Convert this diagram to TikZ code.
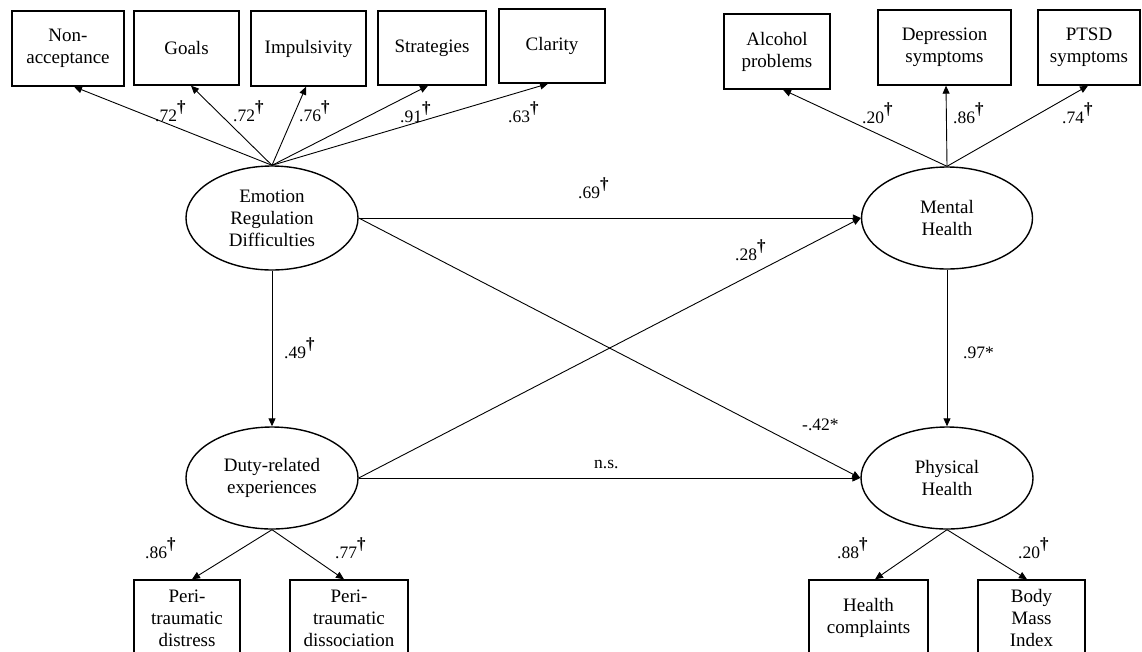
\documentclass[tikz,border=0pt]{standalone}
\usepackage{fontspec}
\setmainfont{Liberation Serif}
\usetikzlibrary{arrows.meta,shapes.geometric}
\newcommand{\dg}{\raisebox{8.5pt}{\fontsize{17}{17}\selectfont\bfseries †}}
\begin{document}
\begin{tikzpicture}[x=1pt,y=-1pt,
  box/.style={draw,line width=1.4pt,rectangle,inner sep=0pt,align=center,font=\fontsize{19}{22}\selectfont},
  latent/.style={draw,line width=1.4pt,ellipse,inner sep=0pt,align=center,font=\fontsize{19}{22}\selectfont},
  arr/.style={line width=0.9pt,-{Triangle[length=8pt,width=7pt]}},
  lab/.style={anchor=base west,inner sep=0pt,font=\fontsize{17.5}{17.5}\selectfont}]
\useasboundingbox[fill=white] (0,0) rectangle (1142,651);

% indicator boxes (top)
\node[box,minimum width=112pt,minimum height=75pt] (nonacc) at (68,48.5) {Non-\\acceptance};
\node[box,minimum width=105pt,minimum height=74pt] (goals) at (186.5,48) {Goals};
\node[box,minimum width=115pt,minimum height=75pt] (impuls) at (308.5,48.5) {Impulsivity};
\node[box,minimum width=108pt,minimum height=74pt] (strat) at (432,48) {Strategies};
\node[box,minimum width=106pt,minimum height=74pt] (clar) at (552,46) {Clarity};
\node[box,minimum width=106pt,minimum height=75pt] (alc) at (777,51.5) {Alcohol\\problems};
\node[box,minimum width=133pt,minimum height=75pt] (dep) at (944.5,47.5) {Depression\\symptoms};
\node[box,minimum width=102pt,minimum height=75pt] (ptsd) at (1089,47.5) {PTSD\\symptoms};

% indicator boxes (bottom)
\node[box,minimum width=106pt,minimum height=76pt] (dist) at (187,618) {Peri-\\traumatic\\distress};
\node[box,minimum width=118pt,minimum height=76pt] (diss) at (349,618) {Peri-\\traumatic\\dissociation};
\node[box,minimum width=119pt,minimum height=76pt] (hc) at (868.5,618) {Health\\complaints};
\node[box,minimum width=107pt,minimum height=76pt] (bmi) at (1031.5,618) {Body\\Mass\\Index};

% latent variables
\node[latent,minimum width=172pt,minimum height=104pt] (erd) at (272,218) {Emotion\\Regulation\\Difficulties};
\node[latent,minimum width=171pt,minimum height=102pt] (mh) at (947,218) {Mental\\Health};
\node[latent,minimum width=172pt,minimum height=102pt] (dre) at (272,478) {Duty-related\\experiences};
\node[latent,minimum width=172pt,minimum height=102pt] (ph) at (947,478) {Physical\\Health};

% loadings
\draw[arr] (erd.north) -- ([xshift=6pt]nonacc.south);
\draw[arr] (erd.north) -- ([xshift=4.5pt]goals.south);
\draw[arr] (erd.north) -- ([xshift=-2.5pt]impuls.south);
\draw[arr] (erd.north) -- ([xshift=-4pt]strat.south);
\draw[arr] (erd.north) -- ([xshift=-4pt]clar.south);
\draw[arr] (mh.north) -- ([xshift=6pt]alc.south);
\draw[arr] (mh.north) -- ([xshift=1.5pt]dep.south);
\draw[arr] (mh.north) -- ([xshift=-1pt]ptsd.south);
\draw[arr] (dre.south) -- ([xshift=5pt]dist.north);
\draw[arr] (dre.south) -- ([xshift=-5pt]diss.north);
\draw[arr] (ph.south) -- ([xshift=6.5pt]hc.north);
\draw[arr] (ph.south) -- ([xshift=-4.5pt]bmi.north);

% structural paths
\draw[arr] (erd.east) -- (mh.west);
\draw[arr] (erd.east) -- (ph.west);
\draw[arr] (erd.south) -- (dre.north);
\draw[arr] (dre.east) -- (mh.west);
\draw[arr] (dre.east) -- (ph.west);
\draw[arr] (mh.south) -- (ph.north);

% labels
\node[lab] (l1) at (155,121) {.72\dg};
\node[lab] (l2) at (233,121) {.72\dg};
\node[lab] (l3) at (299,121) {.76\dg};
\node[lab] (l4) at (400,122) {.91\dg};
\node[lab] (l5) at (508,122) {.63\dg};
\node[lab] (l6) at (862,123) {.20\dg};
\node[lab] (l7) at (953,123) {.86\dg};
\node[lab] (l8) at (1062,123) {.74\dg};
\node[lab] (l9) at (578,198) {.69\dg};
\node[lab] (l10) at (735,260) {.28\dg};
\node[lab] (l11) at (284,358) {.49\dg};
\node[lab] (l12) at (963,358) {.97*};
\node[lab] (l13) at (802,430) {-.42*};
\node[lab] (l14) at (594,468) {n.s.};
\node[lab] (l15) at (145,558) {.86\dg};
\node[lab] (l16) at (335,558) {.77\dg};
\node[lab] (l17) at (837,558) {.88\dg};
\node[lab] (l18) at (1018,558) {.20\dg};
\end{tikzpicture}
\end{document}
